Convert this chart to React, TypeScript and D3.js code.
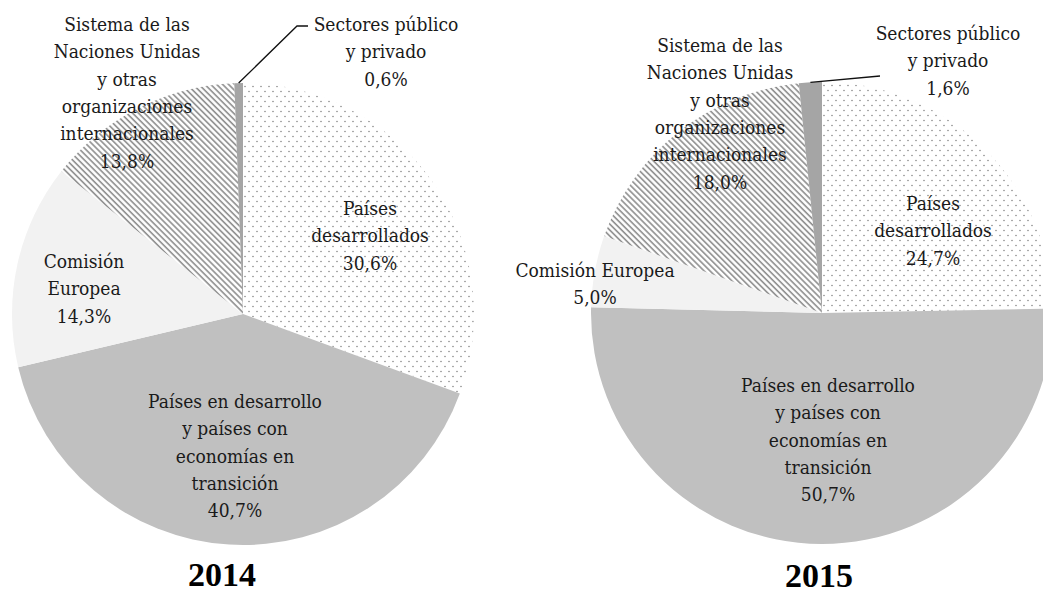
import * as d3 from 'd3';

// categorías en el orden de las agujas del reloj desde las 12
const categories = [
  'Países desarrollados',
  'Países en desarrollo y países con economías en transición',
  'Comisión Europea',
  'Sistema de las Naciones Unidas y otras organizaciones internacionales',
  'Sectores público y privado',
];
const years = ['2014', '2015'];
const values2014 = [30.6, 40.7, 14.3, 13.8, 0.6];
const values2015 = [24.7, 50.7, 5.0, 18.0, 1.6];

// etiquetas con saltos de línea de cada gráfico
const labels2014 = [
  ['Países', 'desarrollados', '30,6%'],
  ['Países en desarrollo', 'y países con', 'economías en', 'transición', '40,7%'],
  ['Comisión', 'Europea', '14,3%'],
  ['Sistema de las', 'Naciones Unidas', 'y otras', 'organizaciones', 'internacionales', '13,8%'],
  ['Sectores público', 'y privado', '0,6%'],
];
const labels2015 = [
  ['Países', 'desarrollados', '24,7%'],
  ['Países en desarrollo', 'y países con', 'economías en', 'transición', '50,7%'],
  ['Comisión Europea', '5,0%'],
  ['Sistema de las', 'Naciones Unidas', 'y otras', 'organizaciones', 'internacionales', '18,0%'],
  ['Sectores público', 'y privado', '1,6%'],
];

const W = 1043;
const H = 593;
const R = 231;
const FONT = "'Liberation Serif', serif";
const LABEL_FONT = "'DejaVu Serif Condensed', 'DejaVu Serif', serif";
const LINE = 27.3;

const fills = ['url(#dots)', '#c0c0c0', '#f2f2f2', 'url(#hatch)', '#a5a5a5'];

interface PieSpec {
  year: string;
  values: number[];
  labels: string[][];
  cx: number;
  cy: number;
  // desplazamientos de etiquetas respecto al centro (x centro, primera línea base)
  offsets: [number, number][];
  leader: [number, number][];
  yearPos: [number, number];
}

const pies: PieSpec[] = [
  {
    year: years[0],
    values: values2014,
    labels: labels2014,
    cx: 243,
    cy: 314,
    offsets: [[127, -99], [-8, 94], [-159, -46], [-116, -283], [143, -283]],
    leader: [[54, -288], [65, -288]],
    yearPos: [-21, 272],
  },
  {
    year: years[1],
    values: values2015,
    labels: labels2015,
    cx: 822,
    cy: 313,
    offsets: [[111, -103], [6, 79], [-227, -36], [-102, -261], [126, -273]],
    leader: [[58, -237]],
    yearPos: [-3, 274],
  },
];

const pie = d3.pie<number>().sort(null).value(d => d);
const arc = d3.arc<d3.PieArcDatum<number>>().innerRadius(0).outerRadius(R);

const Pie = ({ spec }: { spec: PieSpec }) => {
  const arcs = pie(spec.values);
  const small = arcs[4];
  const mid = (small.startAngle + small.endAngle) / 2;
  const start: [number, number] = [R * Math.sin(mid), -R * Math.cos(mid)];
  const line = d3.line()([start, ...spec.leader]) || '';
  return (
    <g transform={`translate(${spec.cx},${spec.cy})`}>
      {arcs.map((a, i) => (
        <path key={categories[i]} d={arc(a) || ''} fill={fills[i]} />
      ))}
      <path d={line} fill="none" stroke="#111" strokeWidth={1.3} />
      {spec.labels.map((lines, i) => (
        <text
          key={i}
          x={spec.offsets[i][0]}
          y={spec.offsets[i][1]}
          textAnchor="middle"
          style={{ fontFamily: LABEL_FONT, fontSize: '19px', fontWeight: 400, fontStretch: 'condensed' }}
          fill="#1a1a1a"
        >
          {lines.map((t, j) => (
            <tspan key={j} x={spec.offsets[i][0]} y={spec.offsets[i][1] + j * LINE}>{t}</tspan>
          ))}
        </text>
      ))}
      <text
        x={spec.yearPos[0]}
        y={spec.yearPos[1]}
        textAnchor="middle"
        style={{ fontFamily: FONT, fontSize: '34px', fontWeight: 700 }}
        fill="#000"
      >
        {spec.year}
      </text>
    </g>
  );
};

export default function App() {
  return (
    <>
      <style>{'body{margin:0}'}</style>
      <svg width={W} height={H} style={{ display: 'block', background: '#fff' }}>
        <defs>
          <pattern id="hatch" width={4.2} height={10} patternUnits="userSpaceOnUse" patternTransform="rotate(-45)">
            <rect width={4.2} height={10} fill="#fff" />
            <line x1={1} y1={0} x2={1} y2={10} stroke="#8c8c8c" strokeWidth={1.6} />
          </pattern>
          <pattern id="dots" width={8} height={10} patternUnits="userSpaceOnUse">
            <rect width={8} height={10} fill="#fff" />
            <circle cx={2} cy={2.5} r={0.8} fill="#8a8a8a" />
            <circle cx={6} cy={7.5} r={0.8} fill="#8a8a8a" />
          </pattern>
        </defs>
        {pies.map(p => (
          <Pie key={p.year} spec={p} />
        ))}
      </svg>
    </>
  );
}
